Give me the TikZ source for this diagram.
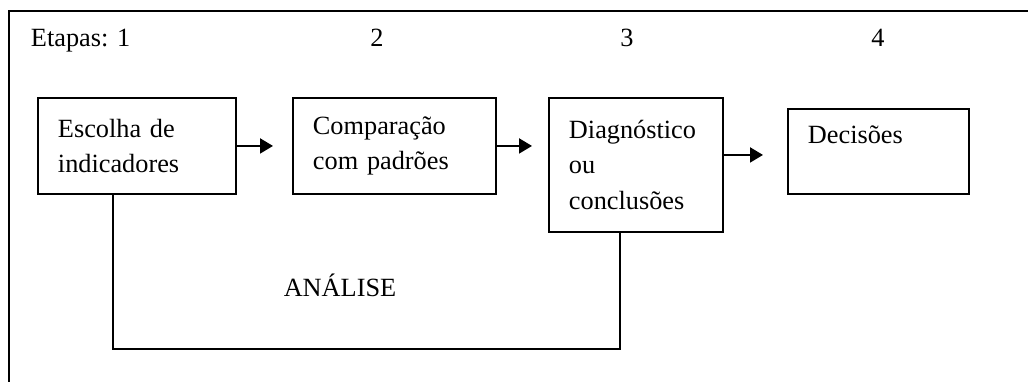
\documentclass[tikz,border=0pt]{standalone}
\usepackage{fontspec}
\setmainfont{Liberation Serif}
\usetikzlibrary{calc,positioning,arrows.meta}

\begin{document}
\begin{tikzpicture}[x = 1pt, y = -1pt, line width = 1.9pt,
  lbl/.style={font=\fontsize{26.3}{35.5}\selectfont, inner sep = 0 pt},
  caixa/.style={draw, font=\fontsize{26.3}{35.5}\selectfont, align = left, anchor = north west, inner xsep = 20pt, inner ysep = 0pt},
  seta/.style={-{Triangle[length = 13pt, width = 15pt]}}]
\useasboundingbox (0,0) rectangle (1028,382);
\draw (1028,11) -- (9,11) -- (9,382);
\node[lbl, anchor = base west] (etapas) at (30,47) {Etapas: 1};
\foreach \n/\x in {2/377, 3/627, 4/878}{\node[lbl, anchor = base] (num\n) at (\x,47) {\n};}
\node[caixa, text width = 158pt, minimum height = 96pt] (esc) at (37,97) {Escolha de\\indicadores};
\node[caixa, text width = 163pt, minimum height = 96pt] (comp) at (292,97) {Comparação\\com padrões};
\node[caixa, text width = 134pt, minimum height = 134pt] (diag) at (548,97) {Diagnóstico\\ou\\conclusões};
\node[caixa, text width = 141pt, minimum height = 85pt, text depth = 34pt] (dec) at (787,108) {Decisões};
\draw[seta, shorten > = 19pt] (esc.east) -- (esc.east -| comp.west);
\draw[seta, shorten > = 16pt] (comp.east) -- (comp.east -| diag.west);
\draw[seta, shorten > = 24pt] ($(diag.east)+(0,-10)$) -- ($(diag.east -| dec.west)+(0,-10)$);
\draw ([xshift = -24pt]esc.south) -- ++(0,154) -| ([xshift = -16pt]diag.south);
\node[lbl] (analise) at (340,285) {ANÁLISE};
\end{tikzpicture}
\end{document}
